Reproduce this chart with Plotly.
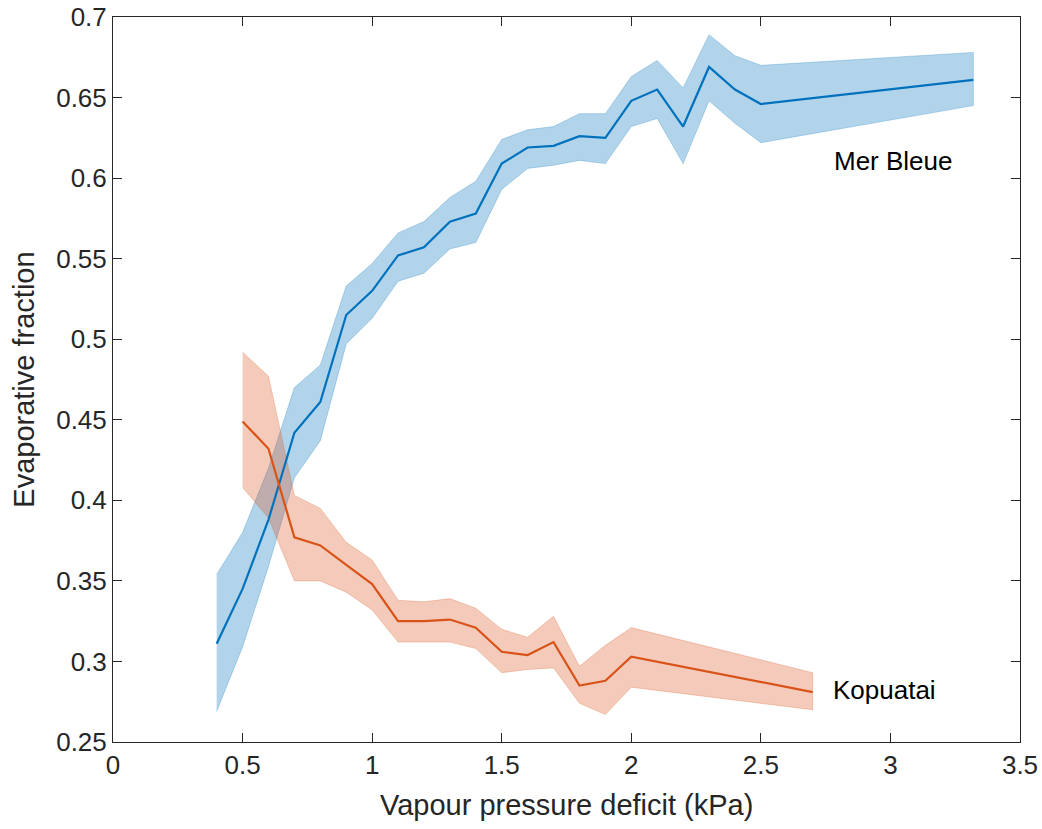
import plotly.graph_objects as go

# Mer Bleue
mb_x = [0.4, 0.5, 0.6, 0.7, 0.8, 0.9, 1.0, 1.1, 1.2, 1.3, 1.4, 1.5, 1.6, 1.7, 1.8, 1.9,
        2.0, 2.1, 2.2, 2.3, 2.4, 2.5, 3.32]
mb_y = [0.311, 0.345, 0.388, 0.442, 0.461, 0.515, 0.530, 0.552, 0.557, 0.573, 0.578, 0.609,
        0.619, 0.620, 0.626, 0.625, 0.648, 0.655, 0.632, 0.669, 0.655, 0.646, 0.661]
mb_up = [0.354, 0.380, 0.420, 0.470, 0.484, 0.533, 0.547, 0.566, 0.573, 0.588, 0.598, 0.624,
         0.630, 0.632, 0.640, 0.640, 0.663, 0.673, 0.656, 0.689, 0.676, 0.670, 0.678]
mb_lo = [0.269, 0.309, 0.359, 0.414, 0.437, 0.497, 0.513, 0.536, 0.541, 0.556, 0.560, 0.593,
         0.606, 0.608, 0.611, 0.609, 0.632, 0.637, 0.609, 0.648, 0.634, 0.622, 0.645]

# Kopuatai
kp_x = [0.5, 0.6, 0.7, 0.8, 0.9, 1.0, 1.1, 1.2, 1.3, 1.4, 1.5, 1.6, 1.7, 1.8, 1.9, 2.0, 2.7]
kp_y = [0.449, 0.432, 0.377, 0.372, 0.360, 0.348, 0.325, 0.325, 0.326, 0.321, 0.306, 0.304,
        0.312, 0.285, 0.288, 0.303, 0.281]
kp_up = [0.492, 0.477, 0.403, 0.395, 0.374, 0.363, 0.338, 0.337, 0.339, 0.333, 0.320, 0.315,
         0.328, 0.297, 0.310, 0.321, 0.293]
kp_lo = [0.408, 0.389, 0.350, 0.350, 0.343, 0.332, 0.312, 0.312, 0.312, 0.308, 0.293, 0.295,
         0.296, 0.274, 0.267, 0.284, 0.270]

x_ticks = [0, 0.5, 1, 1.5, 2, 2.5, 3, 3.5]
x_ticklabels = ["0", "0.5", "1", "1.5", "2", "2.5", "3", "3.5"]
y_ticks = [0.25, 0.3, 0.35, 0.4, 0.45, 0.5, 0.55, 0.6, 0.65, 0.7]
y_ticklabels = ["0.25", "0.3", "0.35", "0.4", "0.45", "0.5", "0.55", "0.6", "0.65", "0.7"]

BLUE = "#0072BD"
ORANGE = "#D95319"
FONT = "Liberation Sans, Arial, Helvetica, sans-serif"
AX = "#262626"

fig = go.Figure()

def band(x, up, lo, rgb):
    fig.add_trace(go.Scatter(
        x=list(x) + list(x)[::-1], y=list(up) + list(lo)[::-1],
        fill="toself", mode="lines",
        fillcolor=f"rgba({rgb},0.3)", line=dict(color=f"rgba({rgb},0.25)", width=1),
        hoverinfo="skip", showlegend=False))

band(mb_x, mb_up, mb_lo, "0,114,189")
band(kp_x, kp_up, kp_lo, "217,83,25")
fig.add_trace(go.Scatter(x=mb_x, y=mb_y, mode="lines", line=dict(color=BLUE, width=2.2),
                         name="Mer Bleue", showlegend=False))
fig.add_trace(go.Scatter(x=kp_x, y=kp_y, mode="lines", line=dict(color=ORANGE, width=2.2),
                         name="Kopuatai", showlegend=False))

fig.add_annotation(x=2.773, y=0.6106, text="Mer Bleue", showarrow=False, xanchor="left",
                   yanchor="middle", font=dict(family=FONT, size=26, color="black"))
fig.add_annotation(x=2.769, y=0.2822, text="Kopuatai", showarrow=False, xanchor="left",
                   yanchor="middle", font=dict(family=FONT, size=26, color="black"))

fig.add_annotation(xref="paper", yref="paper", x=-0.099, y=0.5, text="Evaporative fraction",
                   textangle=-90, showarrow=False, xanchor="center", yanchor="middle",
                   font=dict(family=FONT, size=29, color=AX))
fig.add_annotation(xref="paper", yref="paper", x=0.5, y=-0.087, text="Vapour pressure deficit (kPa)",
                   showarrow=False, xanchor="center", yanchor="middle",
                   font=dict(family=FONT, size=29, color=AX))

axis_common = dict(showline=True, linecolor=AX, linewidth=1, mirror="ticks", ticks="inside",
                   ticklen=9, tickcolor=AX, tickwidth=1, showgrid=False, zeroline=False,
                   automargin=False, tickfont=dict(family=FONT, size=26, color=AX))
fig.update_xaxes(range=[0, 3.5], tickvals=x_ticks, ticktext=x_ticklabels, **axis_common)
fig.update_yaxes(range=[0.25, 0.7], tickvals=y_ticks, ticktext=y_ticklabels, **axis_common)

fig.update_layout(width=1042, height=829, margin=dict(l=113, r=22, t=17, b=87),
                  paper_bgcolor="white", plot_bgcolor="white", showlegend=False)

fig.write_html("out.html")
